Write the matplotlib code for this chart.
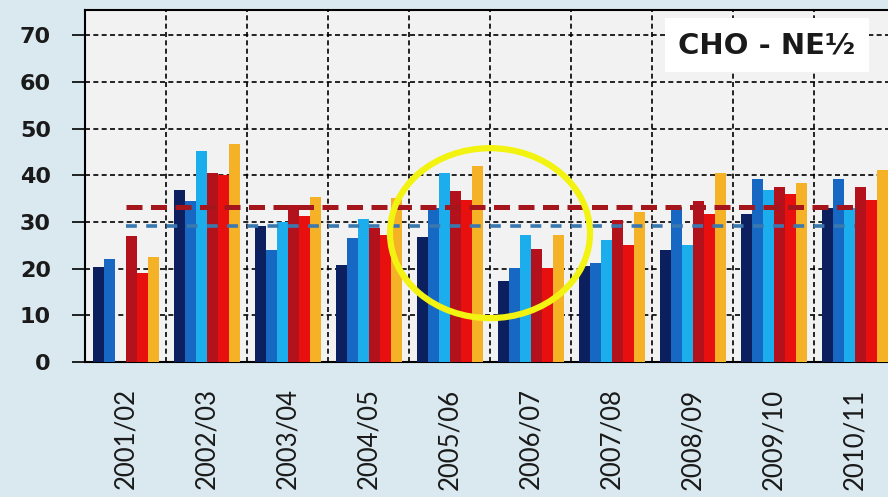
import numpy as np
import matplotlib
matplotlib.use("Agg")
import matplotlib.pyplot as plt
from matplotlib.patches import Ellipse

seasons = ['2001/02', '2002/03', '2003/04', '2004/05', '2005/06',
           '2006/07', '2007/08', '2008/09', '2009/10', '2010/11']
navy = [20.3, 36.8, 29.1, 20.8, 26.8, 17.4, 20.5, 24.0, 31.7, 32.9]
blue = [22.0, 34.5, 24.0, 26.5, 32.9, 20.1, 21.1, 33.3, 39.1, 39.1]
lightblue = [np.nan, 45.2, 30.0, 30.6, 40.4, 27.2, 26.1, 25.1, 36.8, 32.9]
darkred = [27.0, 40.4, 33.6, 28.6, 36.7, 24.3, 30.4, 34.5, 37.5, 37.5]
red = [19.0, 40.0, 31.3, 27.2, 34.7, 20.2, 25.1, 31.7, 35.9, 34.7]
gold = [22.4, 46.7, 35.4, 35.2, 42.0, 27.2, 32.2, 40.4, 38.4, 41.2]
avg_red = 33.3
avg_blue = 29.1
yticks = [0, 10, 20, 30, 40, 50, 60, 70]
title = 'CHO - NE½'

series = [navy, blue, lightblue, darkred, red, gold]
colors = ['#0c1f5e', '#1668c2', '#1badec', '#b3121c', '#e8100f', '#f6b227']

fig = plt.figure(figsize=(8.88, 4.97), dpi=100)
fig.patch.set_facecolor('#dae9f0')
ax = fig.add_axes([85/888, 1 - 362/497, 810/888, 352/497])
ax.set_facecolor('#f2f2f2')

x = np.arange(len(seasons))
bw = 11/81
for k, (vals, c) in enumerate(zip(series, colors)):
    ax.bar(x + (k - 2.5) * bw, vals, width=bw, color=c, zorder=3, linewidth=0)

xs = np.array([0, len(seasons) - 1])
ax.plot(xs, [avg_red, avg_red], color='#a5161c', lw=3.6,
        linestyle=(0, (3.2, 1.7)), zorder=4, solid_capstyle='butt')
ax.plot(xs, [avg_blue, avg_blue], color='#3a78b0', lw=2.6,
        linestyle=(0, (3, 2.6)), zorder=4)

ax.set_xlim(-0.5, len(seasons) - 0.5)
ax.set_ylim(0, 75.4)
ax.set_yticks(yticks)
ax.set_yticklabels([str(t) for t in yticks], fontsize=16, fontweight='bold',
                   color='#1a1a1a')
ax.set_xticks(x)
ax.set_xticklabels(seasons, rotation=90, fontsize=18.5, family='Lato',
                   color='#1a1a1a')
ax.set_xticks(x[:-1] + 0.5, minor=True)
ax.tick_params(axis='x', which='both', length=0, pad=19)
ax.tick_params(axis='y', which='major', length=9.5, width=1.2, pad=15,
               direction='out')

ax.grid(axis='y', which='major', color='black', lw=1.2, linestyle=(0, (3, 2)),
        zorder=1)
ax.grid(axis='x', which='minor', color='black', lw=1.2, linestyle=(0, (3, 2)),
        zorder=1)
ax.grid(axis='x', which='major', visible=False)
ax.set_axisbelow(True)

for s in ['left', 'bottom', 'top']:
    ax.spines[s].set_color('black')
    ax.spines[s].set_linewidth(1.5)
ax.spines['right'].set_visible(False)

ell = Ellipse((4.5, 27.6), 2.47, 36.4, fill=False, ec='#f3f312', lw=4.5,
              zorder=6, clip_on=False)
ax.add_patch(ell)

fig.text(767/888, 1 - 45/497, title, ha='center', va='center',
         fontsize=21, fontweight='bold', color='#1a1a1a', zorder=10,
         bbox=dict(boxstyle='square,pad=0.45', fc='white', ec='none'))

fig.savefig('out.png', dpi=100, facecolor=fig.get_facecolor())
